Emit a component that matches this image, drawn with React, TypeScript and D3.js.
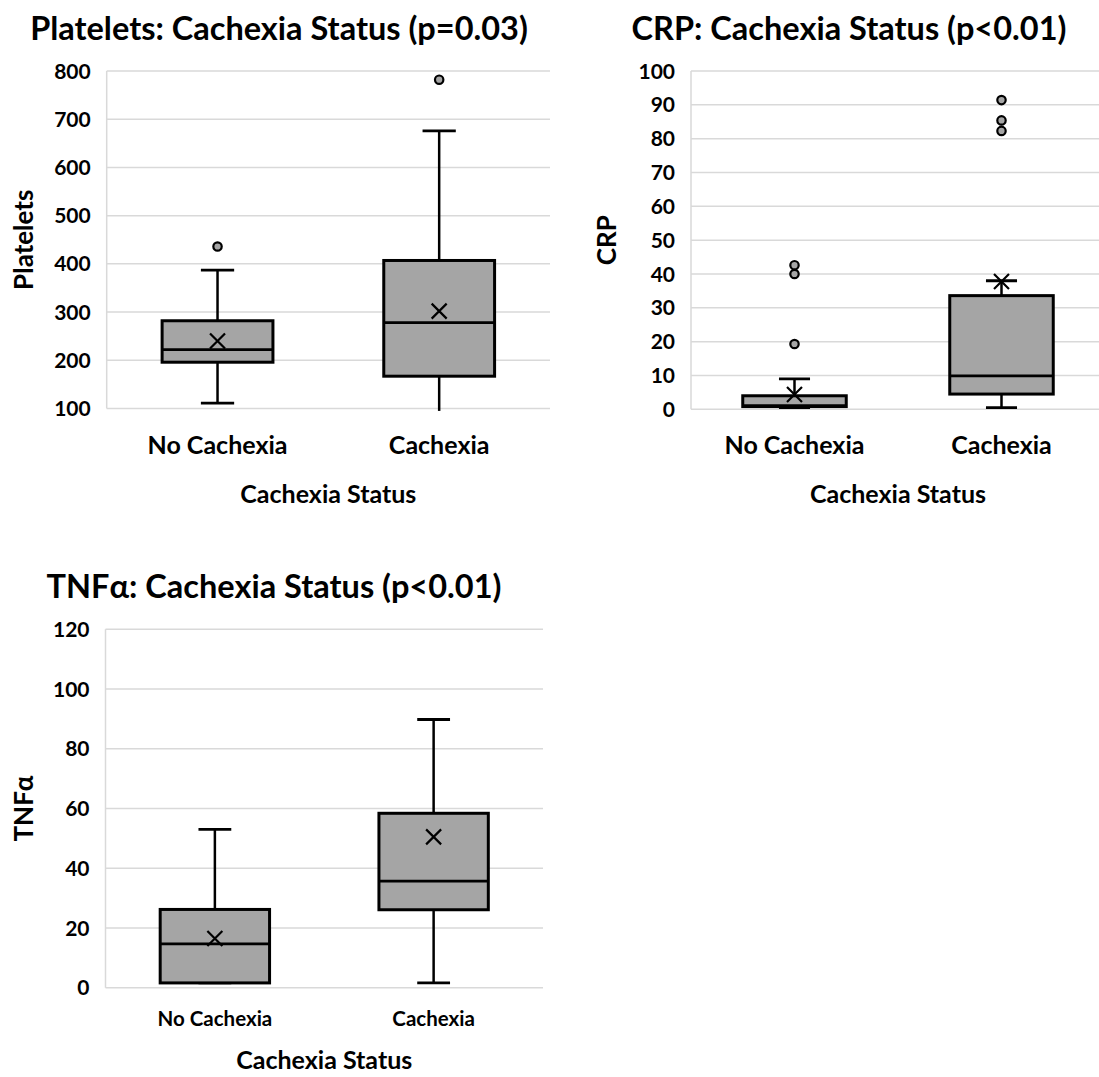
import { useEffect, useRef } from 'react';
import * as d3 from 'd3';

// Box statistics
const categories = ['No Cachexia', 'Cachexia'];

const plateletBoxes = [
  { min: 111, q1: 196, median: 222, q3: 282, max: 387, mean: 240, outliers: [436] },
  { min: 95, q1: 167, median: 278, q3: 407, max: 676, mean: 302, outliers: [782] },
];

const crpBoxes = [
  { min: 0.5, q1: 0.8, median: 1.1, q3: 4.0, max: 9.0, mean: 4.4, outliers: [19.3, 40.0, 42.6] },
  { min: 0.5, q1: 4.5, median: 9.9, q3: 33.6, max: 38.0, mean: 37.8, outliers: [82.3, 85.4, 91.4] },
];

const tnfBoxes = [
  { min: 1.6, q1: 1.6, median: 14.7, q3: 26.2, max: 53.0, mean: 16.5, outliers: [] as number[] },
  { min: 1.6, q1: 26.1, median: 35.7, q3: 58.4, max: 89.8, mean: 50.5, outliers: [] as number[] },
];

const plateletTicks = [100, 200, 300, 400, 500, 600, 700, 800];
const crpTicks = [0, 10, 20, 30, 40, 50, 60, 70, 80, 90, 100];
const tnfTicks = [0, 20, 40, 60, 80, 100, 120];

const FONT = 'Lato, "Open Sans", sans-serif';

interface Box {
  min: number; q1: number; median: number; q3: number; max: number; mean: number; outliers: number[];
}

interface PanelConfig {
  title: string;
  titleX: number;
  titleY: number;
  yLabel: string;
  yLabelX: number;
  x0: number; x1: number; y0: number; y1: number;
  domain: [number, number];
  ticks: number[];
  boxes: Box[];
  catFont: number;
  catY: number;
  xTitleY: number;
}

function drawPanel(svg: d3.Selection<SVGSVGElement, unknown, null, undefined>, cfg: PanelConfig) {
  const g = svg.append('g');

  const x = d3.scaleBand<string>().domain(categories).range([cfg.x0, cfg.x1]);
  const y = d3.scaleLinear().domain(cfg.domain).range([cfg.y1, cfg.y0]);

  // gridlines
  g.selectAll('.grid')
    .data(cfg.ticks)
    .enter()
    .append('line')
    .attr('x1', cfg.x0)
    .attr('x2', cfg.x1)
    .attr('y1', d => y(d))
    .attr('y2', d => y(d))
    .attr('stroke', '#d9d9d9')
    .attr('stroke-width', 1.5);

  // vertical axis line
  g.append('line')
    .attr('x1', cfg.x0).attr('x2', cfg.x0)
    .attr('y1', cfg.y0).attr('y2', cfg.y1)
    .attr('stroke', '#d9d9d9')
    .attr('stroke-width', 1.5);

  // tick labels
  g.selectAll('.tick')
    .data(cfg.ticks)
    .enter()
    .append('text')
    .attr('x', cfg.x0 - 16)
    .attr('y', d => y(d))
    .attr('dy', '0.36em')
    .attr('text-anchor', 'end')
    .attr('font-family', FONT)
    .attr('font-weight', 700)
    .attr('font-size', 21)
    .attr('fill', '#000')
    .text(d => d);

  const bw = x.bandwidth();
  const boxW = bw * 0.5;
  const capW = bw * 0.15;

  cfg.boxes.forEach((b, i) => {
    const cx = (x(categories[i]) as number) + bw / 2;
    const bg = g.append('g');

    // whiskers
    bg.append('line')
      .attr('x1', cx).attr('x2', cx)
      .attr('y1', y(b.q3)).attr('y2', y(b.max))
      .attr('stroke', '#000').attr('stroke-width', 2.5);
    bg.append('line')
      .attr('x1', cx).attr('x2', cx)
      .attr('y1', y(b.q1)).attr('y2', y(b.min))
      .attr('stroke', '#000').attr('stroke-width', 2.5);
    [b.max, b.min].forEach(v => {
      if (v < cfg.domain[0]) return;
      bg.append('line')
        .attr('x1', cx - capW / 2).attr('x2', cx + capW / 2)
        .attr('y1', y(v)).attr('y2', y(v))
        .attr('stroke', '#000').attr('stroke-width', 2.8);
    });

    // box
    bg.append('rect')
      .attr('x', cx - boxW / 2)
      .attr('y', y(b.q3))
      .attr('width', boxW)
      .attr('height', y(b.q1) - y(b.q3))
      .attr('fill', '#a5a5a5')
      .attr('stroke', '#000')
      .attr('stroke-width', 3);

    // median
    bg.append('line')
      .attr('x1', cx - boxW / 2).attr('x2', cx + boxW / 2)
      .attr('y1', y(b.median)).attr('y2', y(b.median))
      .attr('stroke', '#000').attr('stroke-width', 2.8);

    // mean marker
    const s = 7.5;
    const my = y(b.mean);
    bg.append('path')
      .attr('d', `M${cx - s},${my - s}L${cx + s},${my + s}M${cx - s},${my + s}L${cx + s},${my - s}`)
      .attr('stroke', '#000')
      .attr('stroke-width', 2.2)
      .attr('fill', 'none');

    // outliers
    bg.selectAll('.out')
      .data(b.outliers)
      .enter()
      .append('circle')
      .attr('cx', cx)
      .attr('cy', d => y(d))
      .attr('r', 4.2)
      .attr('fill', '#a5a5a5')
      .attr('stroke', '#000')
      .attr('stroke-width', 2.2);
  });

  // category labels
  g.selectAll('.cat')
    .data(categories)
    .enter()
    .append('text')
    .attr('x', d => (x(d) as number) + bw / 2)
    .attr('y', cfg.catY)
    .attr('text-anchor', 'middle')
    .attr('font-family', FONT)
    .attr('font-weight', 700)
    .attr('font-size', cfg.catFont)
    .text(d => d);

  // axis titles
  g.append('text')
    .attr('x', (cfg.x0 + cfg.x1) / 2)
    .attr('y', cfg.xTitleY)
    .attr('text-anchor', 'middle')
    .attr('font-family', FONT)
    .attr('font-weight', 700)
    .attr('font-size', 25)
    .text('Cachexia Status');

  g.append('text')
    .attr('transform', `translate(${cfg.yLabelX},${(cfg.y0 + cfg.y1) / 2}) rotate(-90)`)
    .attr('text-anchor', 'middle')
    .attr('dy', '0.36em')
    .attr('font-family', FONT)
    .attr('font-weight', 700)
    .attr('font-size', 26)
    .text(cfg.yLabel);

  // chart title
  g.append('text')
    .attr('x', cfg.titleX)
    .attr('y', cfg.titleY)
    .attr('text-anchor', 'middle')
    .attr('font-family', FONT)
    .attr('font-weight', 700)
    .attr('font-size', 32.5)
    .text(cfg.title);
}

export default function App() {
  const svgRef = useRef<SVGSVGElement>(null);

  useEffect(() => {
    if (!svgRef.current) return;
    const svg = d3.select(svgRef.current);
    svg.selectAll('*').remove();

    drawPanel(svg, {
      title: 'Platelets: Cachexia Status (p=0.03)',
      titleX: 279, titleY: 40,
      yLabel: 'Platelets', yLabelX: 24,
      x0: 106.7, x1: 550, y0: 71, y1: 408.5,
      domain: [100, 800], ticks: plateletTicks, boxes: plateletBoxes,
      catFont: 25, catY: 454, xTitleY: 503,
    });

    drawPanel(svg, {
      title: 'CRP: Cachexia Status (p<0.01)',
      titleX: 849, titleY: 40,
      yLabel: 'CRP', yLabelX: 607,
      x0: 691, x1: 1105, y0: 71, y1: 409.3,
      domain: [0, 100], ticks: crpTicks, boxes: crpBoxes,
      catFont: 25, catY: 454, xTitleY: 503,
    });

    drawPanel(svg, {
      title: 'TNFα: Cachexia Status (p<0.01)',
      titleX: 274, titleY: 598,
      yLabel: 'TNFα', yLabelX: 24,
      x0: 105.5, x1: 543, y0: 629.3, y1: 987.7,
      domain: [0, 120], ticks: tnfTicks, boxes: tnfBoxes,
      catFont: 20.5, catY: 1026, xTitleY: 1069,
    });
  }, []);

  return (
    <div style={{ position: 'absolute', left: 0, top: 0 }}>
      <svg ref={svgRef} width={1099} height={1077} style={{ display: 'block', background: '#fff' }} />
    </div>
  );
}
